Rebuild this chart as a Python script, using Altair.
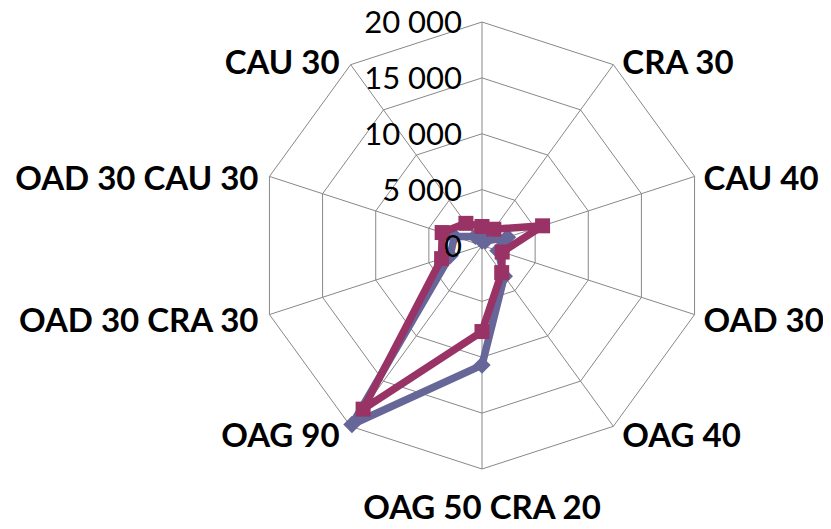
import altair as alt
import pandas as pd

categories = ["", "CRA 30", "CAU 40", "OAD 30", "OAG 40", "OAG 50 CRA 20",
              "OAG 90", "OAD 30 CRA 30", "OAD 30 CAU 30", "CAU 30"]
series_names = ["Série 1", "Série 2"]
series1 = [400, 500, 2400, 1500, 3400, 10700, 19800, 3000, 2600, 1000]
series2 = [1700, 1800, 5700, 1900, 3000, 7700, 18100, 3800, 3750, 2450]
tick_values = [0, 5000, 10000, 15000, 20000]
tick_labels = ["0", "5 000", "10 000", "15 000", "20 000"]
grid_levels = [5000, 10000, 15000, 20000]
rmax = 20000

colors = ["#666699", "#993366"]
shapes = ["diamond", "square"]
sizes = [300, 225]

N = len(categories)
W, H = 815, 512
cx, cy = 474, 237.5
k = 223.5 / rmax
xdom = [-cx / k, (W - cx) / k]
ydom = [-(H - cy) / k, cy / k]

xs = alt.Scale(domain=xdom, nice=False, zero=False)
ys = alt.Scale(domain=ydom, nice=False, zero=False)
X = alt.X("x:Q", scale=xs, axis=None)
Y = alt.Y("y:Q", scale=ys, axis=None)

ANG = f"datum.idx * 2 * PI / {N}"

# grid rings
ring_df = pd.DataFrame([{"level": lv, "idx": i} for lv in grid_levels for i in range(N)])
rings = alt.Chart(ring_df).transform_calculate(a=ANG).transform_calculate(
    x="datum.level * sin(datum.a)", y="datum.level * cos(datum.a)"
).mark_line(interpolate="linear-closed", color="#888888", strokeWidth=1).encode(
    x=X, y=Y, order="idx:Q", detail="level:N"
)

spoke_df = pd.DataFrame({"idx": list(range(N))})
spokes = alt.Chart(spoke_df).transform_calculate(a=ANG).transform_calculate(
    x="0", y="0", x2=f"{rmax} * sin(datum.a)", y2=f"{rmax} * cos(datum.a)"
).mark_rule(color="#888888", strokeWidth=1).encode(
    x=X, y=Y, x2="x2:Q", y2="y2:Q"
)

rows = []
for name, vals in zip(series_names, [series1, series2]):
    for i, (c, v) in enumerate(zip(categories, vals)):
        rows.append({"series": name, "idx": i, "cat": c, "value": v})
sdf = pd.DataFrame(rows)

def series_layers(j):
    base = alt.Chart(sdf).transform_filter(
        alt.datum.series == series_names[j]
    ).transform_calculate(a=ANG).transform_calculate(
        x="datum.value * sin(datum.a)", y="datum.value * cos(datum.a)"
    )
    line = base.mark_line(interpolate="linear-closed", color=colors[j],
                          strokeWidth=7.5, strokeJoin="round").encode(
        x=X, y=Y, order="idx:Q")
    pts = base.mark_point(filled=True, opacity=1, color=colors[j],
                          shape=shapes[j], size=sizes[j]).encode(x=X, y=Y)
    return [line, pts]

lab_df = pd.DataFrame({"idx": list(range(N)), "cat": categories})
lab_base = alt.Chart(lab_df).transform_calculate(a=ANG).transform_calculate(
    s="sin(datum.a)", c="cos(datum.a)"
).transform_calculate(
    x=f"{rmax} * datum.s", y=f"({rmax} + 600) * datum.c - 466"
)
lab_font = dict(font="Lato", fontSize=33, fontWeight="bold", color="#000000", baseline="middle")
lab_right = lab_base.transform_filter("datum.s > 0.1").mark_text(align="left", dx=9, **lab_font).encode(
    x=X, y=Y, text="cat:N")
lab_left = lab_base.transform_filter("datum.s < -0.1").mark_text(align="right", dx=-11, **lab_font).encode(
    x=X, y=Y, text="cat:N")
lab_bottom = lab_base.transform_filter("abs(datum.s) <= 0.1 && datum.c < 0").mark_text(
    align="center", dy=28, **lab_font).encode(x=X, y=Y, text="cat:N")

tick_df = pd.DataFrame({"v": tick_values, "label": tick_labels})
ticks = alt.Chart(tick_df).transform_calculate(x="0", y="datum.v").mark_text(
    align="right", baseline="middle", dx=-20, dy=2, font="Lato", fontSize=31, color="#000000"
).encode(x=X, y=Y, text="label:N")

layers = [rings, spokes] + series_layers(0) + series_layers(1) + [lab_right, lab_left, lab_bottom, ticks]

chart = alt.layer(*layers).properties(
    width=W, height=H, autosize=alt.AutoSizeParams(type="none"), padding=0,
    background="white"
).configure_view(stroke=None)

chart.save("out.html", embed_options={"renderer": "svg", "actions": False})
